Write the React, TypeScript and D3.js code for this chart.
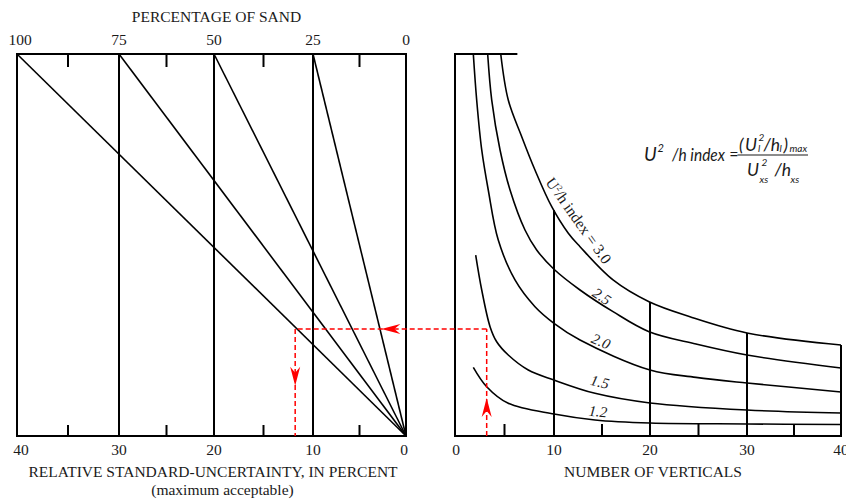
import React from 'react';
import * as d3 from 'd3';

// ---------- data ----------
const sandLabels = [100, 75, 50, 25, 0];
const uncertaintyMajor = [40, 30, 20, 10, 0];
const uncertaintyMinor = [35, 25, 15, 5];
const uncertaintyGrid = [30, 20, 10];
const sandDiagonals = [100, 75, 50, 25];
const verticalsMajor = [0, 10, 20, 30, 40];
const verticalsMinor = [5, 15, 25, 35];
const dropVerticals = [10, 20, 30, 40];
const LEVEL_MAX = 40; // unlabelled shared ordinate (arbitrary units)

const curve30: [number, number][] = [
  [4.62, 40], [5.38, 35.18], [6.74, 31.34], [8.08, 27.85], [9.77, 24.01], [11.49, 21.23],
  [12.71, 19.82], [16.15, 16.34], [19.9, 14.06], [24.12, 12.49], [30, 10.79], [40, 9.53],
];
const curve25: [number, number][] = [
  [3.3, 40], [3.71, 35.18], [4.55, 29.95], [5.56, 25.76], [7.07, 21.57], [8.25, 19.48],
  [10, 17.46], [12.71, 15.29], [16.15, 13.02], [19.9, 10.92], [24.74, 9.63], [30, 8.48], [40, 7.12],
];
const curve20: [number, number][] = [
  [1.85, 40], [2.19, 35.18], [2.7, 29.95], [3.36, 25.76], [4.37, 20.52], [6.06, 16.34],
  [8.08, 13.54], [10, 11.8], [12.71, 10.05], [20, 6.91], [24.74, 6.14], [30, 5.55], [40, 4.61],
];
const curve15: [number, number][] = [
  [2.09, 18.95], [2.7, 15.29], [3.54, 11.45], [4.21, 9.87], [5.38, 8.48], [7.4, 6.91],
  [10, 5.86], [14.27, 4.47], [20, 3.46], [30, 2.72], [40, 2.41],
];
const curve12: [number, number][] = [
  [1.85, 7.19], [3.2, 5.16], [5.38, 3.42], [10, 2.3], [14.27, 1.68], [20, 1.36], [30, 1.26], [40, 1.2],
];
const indexCurves = [curve30, curve25, curve20, curve15, curve12];
const indexLabels = ['3.0', '2.5', '2.0', '1.5', '1.2'];
const topSegmentVerticals = [0, 6.3];

// example trace (red)
const traceVerticals = 3.2;
const traceLevel = 11.2;
const traceUncertainty = 11.8;

// ---------- layout ----------
const W = 846, H = 499;
const TOP = 54, BOTTOM = 436;
const labelLayout = [
  { n: 11.9, dn: 3.4, off: 3.0, size: 15.5, italic: false },
  { n: 14.6, dn: 1.4, off: 1.5, size: 15, italic: true },
  { n: 14.6, dn: 1.4, off: 2.0, size: 15, italic: true },
  { n: 14.5, dn: 1.6, off: 6.0, size: 15, italic: true },
  { n: 14.5, dn: 1.6, off: 3.0, size: 15, italic: true },
];

const serif = "'Liberation Serif', 'Times New Roman', Times, serif";
const formulaFont = "Lato, 'Open Sans', sans-serif";
const FS = 15.5;

export default function App() {
  const y = d3.scaleLinear().domain([0, LEVEL_MAX]).range([BOTTOM, TOP]);
  const xL = d3.scaleLinear().domain(uncertaintyMajor).range([17, 119, 214, 313, 406]);
  const xR = d3.scaleLinear().domain(verticalsMajor).range([455, 554, 650, 747, 841]);
  const sandToU = (s: number) => (LEVEL_MAX * s) / 100;

  const line = d3
    .line<[number, number]>()
    .x((d) => xR(d[0]))
    .y((d) => y(d[1]))
    .curve(d3.curveCatmullRom.alpha(0.5));

  const interp = (pts: [number, number][]) =>
    d3.scaleLinear().domain(pts.map((p) => p[0])).range(pts.map((p) => p[1])).clamp(true);
  const f30 = interp(curve30);

  // red trace geometry
  const rx = xR(traceVerticals);
  const ry = y(traceLevel);
  const lx = xL(traceUncertainty);
  const red = '#ff0000';
  const arrow = (tx: number, ty: number, ang: number) => {
    const L = 19, hw = 5, notch = 6;
    return (
      <path
        d={`M0,0 L${-L},${-hw} L${-L + notch},0 L${-L},${hw} Z`}
        transform={`translate(${tx},${ty}) rotate(${ang})`}
        fill={red}
      />
    );
  };
  const upTip = y(traceLevel * 0.355);
  const leftTip = rx + (lx - rx) * 0.55;
  const downTip = ry + (BOTTOM - ry) * 0.53;

  const black = '#000';
  const txt = '#1a1a1a';
  const serifStyle = { fontFamily: serif };
  const formulaStyle = { fontFamily: formulaFont, fontStyle: 'italic' as const };

  return (
    <svg width={W} height={H} style={{ position: 'absolute', left: 0, top: 0, background: '#fff' }}>
      {/* ---------------- LEFT PANEL ---------------- */}
      <rect x={xL(40)} y={TOP} width={xL(0) - xL(40)} height={BOTTOM - TOP} fill="none" stroke={black} strokeWidth={2} />
      {uncertaintyGrid.map((u) => (
        <line key={'g' + u} x1={xL(u)} x2={xL(u)} y1={TOP} y2={BOTTOM} stroke={black} strokeWidth={2} />
      ))}
      {uncertaintyMinor.map((u) => (
        <g key={'m' + u}>
          <line x1={xL(u)} x2={xL(u)} y1={TOP} y2={TOP + 13} stroke={black} strokeWidth={2} />
          <line x1={xL(u)} x2={xL(u)} y1={BOTTOM} y2={BOTTOM - 11} stroke={black} strokeWidth={2} />
        </g>
      ))}
      {sandDiagonals.map((s) => (
        <line key={'d' + s} x1={xL(0)} y1={y(0)} x2={xL(sandToU(s))} y2={y(LEVEL_MAX)} stroke={black} strokeWidth={1.6} />
      ))}
      <g style={serifStyle} fill={txt} fontSize={FS}>
        {sandLabels.map((s) => (
          <text key={'s' + s} x={xL(sandToU(s)) + (s === 100 ? 3 : 0)} y={45} textAnchor="middle">
            {s}
          </text>
        ))}
        <text x={216.5} y={22} textAnchor="middle">PERCENTAGE OF SAND</text>
        {uncertaintyMajor.map((u) => (
          <text key={'u' + u} x={xL(u) + (u === 40 ? 4 : u === 0 ? -2 : 0)} y={455} textAnchor="middle">
            {u}
          </text>
        ))}
        <text x={213} y={477} textAnchor="middle">RELATIVE STANDARD-UNCERTAINTY, IN PERCENT</text>
        <text x={222.5} y={495} textAnchor="middle">(maximum acceptable)</text>
      </g>

      {/* ---------------- RIGHT PANEL ---------------- */}
      <line x1={xR(0)} x2={xR(0)} y1={TOP - 1} y2={BOTTOM + 1} stroke={black} strokeWidth={2} />
      <line x1={xR(0)} x2={xR(40) + 1} y1={BOTTOM} y2={BOTTOM} stroke={black} strokeWidth={2} />
      <line x1={xR(topSegmentVerticals[0])} x2={xR(topSegmentVerticals[1])} y1={TOP} y2={TOP} stroke={black} strokeWidth={2} />
      {verticalsMinor.map((n) => (
        <line key={'vm' + n} x1={xR(n)} x2={xR(n)} y1={BOTTOM} y2={BOTTOM - 12} stroke={black} strokeWidth={2} />
      ))}
      {dropVerticals.map((n) => (
        <line key={'dv' + n} x1={xR(n)} x2={xR(n)} y1={y(f30(n))} y2={BOTTOM} stroke={black} strokeWidth={2} />
      ))}
      {indexCurves.map((c, i) => (
        <path key={'c' + i} d={line(c) || ''} fill="none" stroke={black} strokeWidth={1.6} />
      ))}
      {indexLabels.map((lab, i) => {
        const L = labelLayout[i];
        const fc = interp(indexCurves[i]);
        const x1 = xR(L.n - L.dn), y1 = y(fc(L.n - L.dn));
        const x2 = xR(L.n + L.dn), y2 = y(fc(L.n + L.dn));
        const th = Math.atan2(y2 - y1, x2 - x1);
        const cx = (x1 + x2) / 2 + Math.sin(th) * L.off;
        const cy = (y1 + y2) / 2 - Math.cos(th) * L.off;
        const deg = (th * 180) / Math.PI;
        return (
          <text
            key={'l' + i}
            transform={`translate(${cx},${cy}) rotate(${deg})`}
            textAnchor="middle"
            style={{ fontFamily: serif, fontStyle: L.italic ? 'italic' : 'normal' }}
            fontSize={L.size}
            fill={txt}
          >
            {i === 0 ? (
              <>
                U<tspan fontSize={8} dy={-6}>2</tspan>
                <tspan dy={6}>/h index = {lab}</tspan>
              </>
            ) : (
              lab
            )}
          </text>
        );
      })}
      <g style={serifStyle} fill={txt} fontSize={FS}>
        {verticalsMajor.map((n) => (
          <text key={'vt' + n} x={xR(n) + (n === 0 ? 1 : 0)} y={455} textAnchor="middle">
            {n}
          </text>
        ))}
        <text x={653} y={477} textAnchor="middle">NUMBER OF VERTICALS</text>
      </g>

      {/* formula */}
      <g style={formulaStyle} fill={txt}>
        <text y={161} fontSize={18.5}>
          <tspan x={644}>U</tspan>
          <tspan x={657.5} y={152} fontSize={11}>2</tspan>
        </text>
        <text x={672} y={161} fontSize={18} textLength={53} lengthAdjust="spacingAndGlyphs">/h index</text>
        <text x={734} y={160} fontSize={16} textAnchor="middle" style={{ fontStyle: 'normal' }}>=</text>
        <line x1={737.5} x2={808} y1={155} y2={155} stroke={txt} strokeWidth={1.2} />
        <text y={151} fontSize={17.5}>
          <tspan x={739}>(</tspan>
          <tspan x={745}>U</tspan>
          <tspan x={758.5} y={141} fontSize={10}>2</tspan>
          <tspan x={758} y={151.5} fontSize={10}>l</tspan>
          <tspan x={763.5} y={151}>/h</tspan>
          <tspan x={779.5} y={151.5} fontSize={10}>l</tspan>
          <tspan x={783.5} y={151}>)</tspan>
          <tspan x={789.5} y={151.5} fontSize={10}>max</tspan>
        </text>
        <text y={176} fontSize={17.5}>
          <tspan x={747}>U</tspan>
          <tspan x={761.5} y={166} fontSize={10}>2</tspan>
          <tspan x={759.5} y={183} fontSize={10}>xs</tspan>
          <tspan x={774.5} y={176}>/h</tspan>
          <tspan x={790.5} y={183} fontSize={10}>xs</tspan>
        </text>
      </g>

      {/* red example trace */}
      <g stroke={red} strokeWidth={1.5} strokeDasharray="5,3" fill="none">
        <line x1={rx} x2={rx} y1={BOTTOM} y2={ry} />
        <line x1={rx} x2={lx} y1={ry} y2={ry} />
        <line x1={lx} x2={lx} y1={ry} y2={BOTTOM} />
      </g>
      {arrow(rx, upTip, -90)}
      {arrow(leftTip, ry, 180)}
      {arrow(lx, downTip, 90)}
    </svg>
  );
}
